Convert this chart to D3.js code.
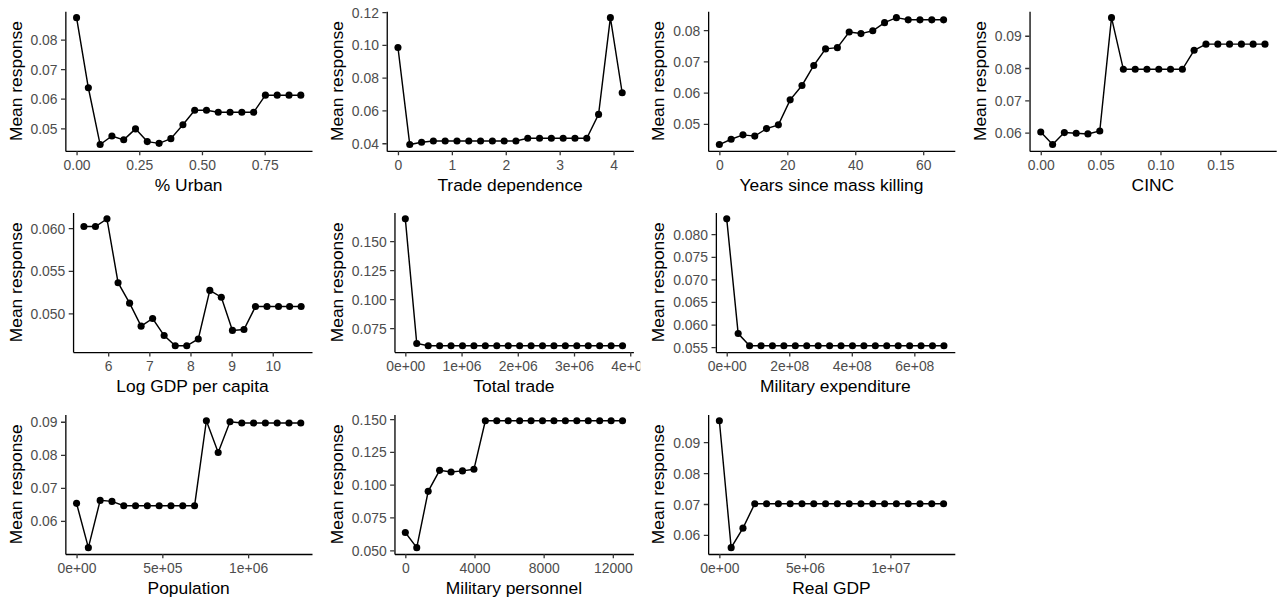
<!DOCTYPE html>
<html>
<head>
<meta charset="utf-8">
<script src="https://cdn.jsdelivr.net/npm/d3@7"></script>
<style>
  html, body { margin: 0; padding: 0; background: #ffffff; }
  svg { display: block; }
</style>
</head>
<body>
<div id="chart"></div>
<script>
// Partial-dependence style curves: mean response across the grid of each predictor.

// % Urban
const urbanX = [0.000, 0.047, 0.094, 0.141, 0.188, 0.235, 0.282, 0.329, 0.376, 0.424,
                0.471, 0.518, 0.565, 0.612, 0.659, 0.706, 0.753, 0.800, 0.847, 0.894];
const urbanY = [0.0874, 0.0637, 0.0445, 0.0474, 0.0461, 0.0498, 0.0455, 0.0449, 0.0465, 0.0512,
                0.0561, 0.0561, 0.0554, 0.0554, 0.0554, 0.0554, 0.0612, 0.0612, 0.0612, 0.0612];
const urbanXTicks = [0, 0.25, 0.5, 0.75];
const urbanYTicks = [0.05, 0.06, 0.07, 0.08];

// Trade dependence
const tradeDepX = [0.000, 0.219, 0.438, 0.657, 0.876, 1.095, 1.314, 1.533, 1.752, 1.971,
                   2.189, 2.408, 2.627, 2.846, 3.065, 3.284, 3.503, 3.722, 3.941, 4.160];
const tradeDepY = [0.0984, 0.0392, 0.0406, 0.0414, 0.0414, 0.0414, 0.0414, 0.0414, 0.0414, 0.0414,
                   0.0414, 0.0430, 0.0430, 0.0430, 0.0430, 0.0430, 0.0430, 0.0576, 0.1166, 0.0708];
const tradeDepXTicks = [0, 1, 2, 3, 4];
const tradeDepYTicks = [0.04, 0.06, 0.08, 0.10, 0.12];

// Years since mass killing
const yearsX = [0.00, 3.47, 6.95, 10.42, 13.89, 17.37, 20.84, 24.32, 27.79, 31.26,
                34.74, 38.21, 41.68, 45.16, 48.63, 52.11, 55.58, 59.05, 62.53, 66.00];
const yearsY = [0.0434, 0.0451, 0.0465, 0.0461, 0.0485, 0.0497, 0.0577, 0.0623, 0.0687, 0.0740,
                0.0744, 0.0794, 0.0789, 0.0798, 0.0824, 0.0840, 0.0833, 0.0833, 0.0833, 0.0833];
const yearsXTicks = [0, 20, 40, 60];
const yearsYTicks = [0.05, 0.06, 0.07, 0.08];

// CINC
const cincX = [0.0000, 0.0099, 0.0197, 0.0296, 0.0394, 0.0493, 0.0591, 0.0690, 0.0789, 0.0887,
               0.0986, 0.1084, 0.1183, 0.1281, 0.1380, 0.1479, 0.1577, 0.1676, 0.1774, 0.1873];
const cincY = [0.0602, 0.0563, 0.0600, 0.0598, 0.0596, 0.0605, 0.0956, 0.0796, 0.0796, 0.0796,
               0.0796, 0.0796, 0.0796, 0.0855, 0.0874, 0.0874, 0.0874, 0.0874, 0.0874, 0.0874];
const cincXTicks = [0, 0.05, 0.10, 0.15];
const cincYTicks = [0.06, 0.07, 0.08, 0.09];

// Log GDP per capita
const gdpPcX = [5.41, 5.69, 5.97, 6.24, 6.52, 6.80, 7.08, 7.36, 7.63, 7.91,
                8.19, 8.47, 8.75, 9.02, 9.30, 9.58, 9.86, 10.14, 10.41, 10.69];
const gdpPcY = [0.0602, 0.0602, 0.0611, 0.0536, 0.0512, 0.0485, 0.0494, 0.0474, 0.0462, 0.0462,
                0.0470, 0.0527, 0.0519, 0.0480, 0.0481, 0.0508, 0.0508, 0.0508, 0.0508, 0.0508];
const gdpPcXTicks = [6, 7, 8, 9, 10];
const gdpPcYTicks = [0.050, 0.055, 0.060];

// Total trade
const totalTradeX = [0, 203000, 407000, 610000, 813000, 1017000, 1220000, 1423000, 1627000, 1830000,
                     2033000, 2237000, 2440000, 2643000, 2846000, 3050000, 3253000, 3456000, 3660000, 3863000];
const totalTradeY = [0.1693, 0.0618, 0.0598, 0.0598, 0.0598, 0.0598, 0.0598, 0.0598, 0.0598, 0.0598,
                     0.0598, 0.0598, 0.0598, 0.0598, 0.0598, 0.0598, 0.0598, 0.0598, 0.0598, 0.0598];
const totalTradeXTicks = [0, 1e6, 2e6, 3e6, 4e6];
const totalTradeYTicks = [0.075, 0.100, 0.125, 0.150];

// Military expenditure
const milExX = [0, 3.66e7, 7.31e7, 1.097e8, 1.462e8, 1.828e8, 2.194e8, 2.559e8, 2.925e8, 3.290e8,
                3.656e8, 4.022e8, 4.387e8, 4.753e8, 5.118e8, 5.484e8, 5.850e8, 6.215e8, 6.581e8, 6.947e8];
const milExY = [0.0834, 0.0580, 0.0553, 0.0553, 0.0553, 0.0553, 0.0553, 0.0553, 0.0553, 0.0553,
                0.0553, 0.0553, 0.0553, 0.0553, 0.0553, 0.0553, 0.0553, 0.0553, 0.0553, 0.0553];
const milExXTicks = [0, 2e8, 4e8, 6e8];
const milExYTicks = [0.055, 0.060, 0.065, 0.070, 0.075, 0.080];

// Population
const popX = [0, 68800, 137600, 206400, 275200, 343900, 412700, 481500, 550300, 619100,
              687900, 756700, 825500, 894300, 963100, 1031800, 1100600, 1169400, 1238200, 1307000];
const popY = [0.0653, 0.0519, 0.0662, 0.0659, 0.0646, 0.0646, 0.0646, 0.0646, 0.0646, 0.0646,
              0.0646, 0.0903, 0.0807, 0.0900, 0.0896, 0.0896, 0.0896, 0.0896, 0.0896, 0.0896];
const popXTicks = [0, 5e5, 1e6];
const popYTicks = [0.06, 0.07, 0.08, 0.09];

// Military personnel
const milPerX = [0, 661, 1322, 1983, 2644, 3306, 3967, 4628, 5289, 5950,
                 6612, 7273, 7934, 8595, 9256, 9917, 10579, 11240, 11901, 12562];
const milPerY = [0.0635, 0.0520, 0.0949, 0.1109, 0.1097, 0.1105, 0.1117, 0.1487, 0.1487, 0.1487,
                 0.1487, 0.1487, 0.1487, 0.1487, 0.1487, 0.1487, 0.1487, 0.1487, 0.1487, 0.1487];
const milPerXTicks = [0, 4000, 8000, 12000];
const milPerYTicks = [0.050, 0.075, 0.100, 0.125, 0.150];

// Real GDP
const realGdpX = [0, 690000, 1380000, 2070000, 2760000, 3450000, 4140000, 4830000, 5520000, 6210000,
                  6900000, 7590000, 8280000, 8970000, 9660000, 10350000, 11040000, 11730000, 12420000, 13110000];
const realGdpY = [0.0969, 0.0559, 0.0622, 0.0701, 0.0701, 0.0701, 0.0701, 0.0701, 0.0701, 0.0701,
                  0.0701, 0.0701, 0.0701, 0.0701, 0.0701, 0.0701, 0.0701, 0.0701, 0.0701, 0.0701];
const realGdpXTicks = [0, 5e6, 1e7];
const realGdpYTicks = [0.06, 0.07, 0.08, 0.09];

// ---- formatting helpers ----
const f2 = d3.format(".2f");
const f3 = d3.format(".3f");
const fInt = d3.format("d");
function sci(v) {
  const [m, e] = v.toExponential(0).split("e");
  return m + "e" + e[0] + e.slice(1).padStart(2, "0");
}

const panels = [
  { xs: urbanX, ys: urbanY, xt: urbanXTicks, yt: urbanYTicks, xf: f2, yf: f2, label: "% Urban", row: 0, col: 0 },
  { xs: tradeDepX, ys: tradeDepY, xt: tradeDepXTicks, yt: tradeDepYTicks, xf: fInt, yf: f2, label: "Trade dependence", row: 0, col: 1 },
  { xs: yearsX, ys: yearsY, xt: yearsXTicks, yt: yearsYTicks, xf: fInt, yf: f2, label: "Years since mass killing", row: 0, col: 2 },
  { xs: cincX, ys: cincY, xt: cincXTicks, yt: cincYTicks, xf: f2, yf: f2, label: "CINC", row: 0, col: 3 },
  { xs: gdpPcX, ys: gdpPcY, xt: gdpPcXTicks, yt: gdpPcYTicks, xf: fInt, yf: f3, label: "Log GDP per capita", row: 1, col: 0 },
  { xs: totalTradeX, ys: totalTradeY, xt: totalTradeXTicks, yt: totalTradeYTicks, xf: sci, yf: f3, label: "Total trade", row: 1, col: 1 },
  { xs: milExX, ys: milExY, xt: milExXTicks, yt: milExYTicks, xf: sci, yf: f3, label: "Military expenditure", row: 1, col: 2 },
  { xs: popX, ys: popY, xt: popXTicks, yt: popYTicks, xf: sci, yf: f2, label: "Population", row: 2, col: 0 },
  { xs: milPerX, ys: milPerY, xt: milPerXTicks, yt: milPerYTicks, xf: fInt, yf: f3, label: "Military personnel", row: 2, col: 1 },
  { xs: realGdpX, ys: realGdpY, xt: realGdpXTicks, yt: realGdpYTicks, xf: sci, yf: f2, label: "Real GDP", row: 2, col: 2 }
];

// ---- layout ----
const W = 1277, H = 601;
const FONT = "'Liberation Sans', Arial, Helvetica, sans-serif";
const tickFont = 13.9, titleFont = 17.4;
const cellW = 321.4, cellH = 201.5;
const colX = [0, 321.4, 642.8, 964.2];
const panelTop = [11.3, 212.5, 414.4];
const panelH = 139.6;
const panelRight = 312;        // right edge of panel, relative to the cell
const leftGap = 38.3;          // cell edge -> start of y tick labels
const tickLen = 4.35, tickPad = 3.5;

const svg = d3.select("#chart").append("svg")
  .attr("width", W).attr("height", H)
  .attr("viewBox", `0 0 ${W} ${H}`);

svg.append("rect").attr("width", W).attr("height", H).attr("fill", "#ffffff");

// measure label widths so the panel starts right after the widest y label
const measure = svg.append("text").attr("font-family", FONT).attr("font-size", tickFont);
function textWidth(s) { measure.text(s); return measure.node().getComputedTextLength(); }

function expand([a, b]) { const r = b - a; return [a - 0.05 * r, b + 0.05 * r]; }

const defs = svg.append("defs");

panels.forEach((p, i) => {
  const cx = colX[p.col];
  const cy = panelTop[p.row] - 11.3;
  const maxW = d3.max(p.yt, v => textWidth(p.yf(v)));
  const left = cx + leftGap + maxW;
  const right = cx + panelRight;
  const top = panelTop[p.row];
  const bottom = top + panelH;

  defs.append("clipPath").attr("id", "cell" + i)
    .append("rect").attr("x", cx).attr("y", cy).attr("width", cellW - 2.5).attr("height", cellH);

  const g = svg.append("g").attr("clip-path", `url(#cell${i})`);

  const x = d3.scaleLinear().domain(expand(d3.extent(p.xs))).range([left, right]);
  const y = d3.scaleLinear().domain(expand(d3.extent(p.ys))).range([bottom, top]);

  // x axis
  const gx = g.append("g").attr("transform", `translate(0,${bottom})`)
    .call(d3.axisBottom(x).tickValues(p.xt).tickFormat(p.xf)
      .tickSize(tickLen).tickSizeOuter(0).tickPadding(tickPad));
  gx.select(".domain").attr("stroke", "#000").attr("stroke-width", 1.3);
  gx.selectAll(".tick line").attr("stroke", "#333333").attr("stroke-width", 1.3);
  gx.selectAll(".tick text").attr("fill", "#4D4D4D").attr("font-family", FONT)
    .attr("font-size", tickFont).attr("dy", "0.82em");

  // y axis
  const gy = g.append("g").attr("transform", `translate(${left},0)`)
    .call(d3.axisLeft(y).tickValues(p.yt).tickFormat(p.yf)
      .tickSize(tickLen).tickSizeOuter(0).tickPadding(tickPad));
  gy.select(".domain").attr("stroke", "#000").attr("stroke-width", 1.3);
  gy.selectAll(".tick line").attr("stroke", "#333333").attr("stroke-width", 1.3);
  gy.selectAll(".tick text").attr("fill", "#4D4D4D").attr("font-family", FONT)
    .attr("font-size", tickFont).attr("dy", "0.36em");

  // axis titles
  g.append("text")
    .attr("x", (left + right) / 2).attr("y", bottom + 40)
    .attr("text-anchor", "middle")
    .attr("font-family", FONT).attr("font-size", titleFont).attr("fill", "#000")
    .text(p.label);
  g.append("text")
    .attr("transform", `translate(${cx + 21.5},${(top + bottom) / 2}) rotate(-90)`)
    .attr("text-anchor", "middle")
    .attr("font-family", FONT).attr("font-size", titleFont).attr("fill", "#000")
    .text("Mean response");

  // curve and grid points
  const pts = p.xs.map((v, k) => [v, p.ys[k]]);
  g.append("path")
    .datum(pts)
    .attr("fill", "none").attr("stroke", "#000").attr("stroke-width", 1.45)
    .attr("d", d3.line().x(d => x(d[0])).y(d => y(d[1])));
  g.append("g").selectAll("circle").data(pts).join("circle")
    .attr("cx", d => x(d[0])).attr("cy", d => y(d[1]))
    .attr("r", 3.55).attr("fill", "#000");
});

measure.remove();
</script>
</body>
</html>
